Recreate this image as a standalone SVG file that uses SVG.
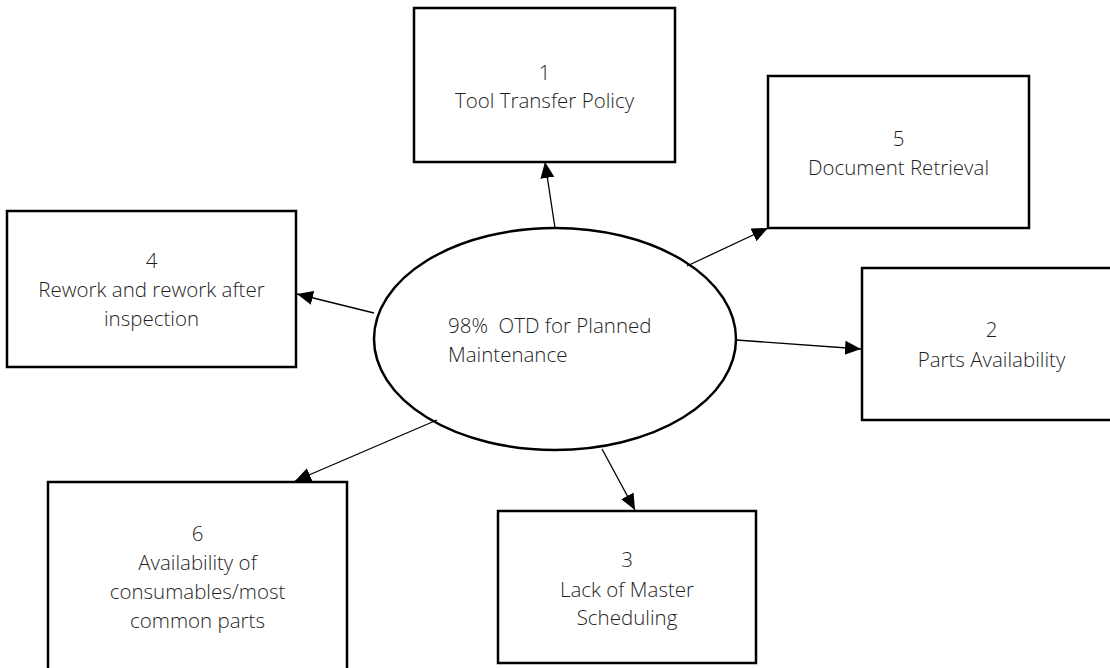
<svg xmlns="http://www.w3.org/2000/svg" width="1110" height="668" viewBox="0 0 1110 668">
<style>
.box{fill:#fff;stroke:#000;stroke-width:2.5}
.t{font-family:"Open Sans",Lato,"Liberation Sans",sans-serif;font-size:20.5px;font-weight:300;fill:#1f1f1f;text-anchor:middle}
.tl{font-family:"Open Sans",Lato,"Liberation Sans",sans-serif;font-size:20.5px;font-weight:300;fill:#1f1f1f}
.c{stroke:#000;stroke-width:1.3;fill:none;marker-end:url(#ah)}
</style>
<defs>
<marker id="ah" markerUnits="userSpaceOnUse" markerWidth="16" markerHeight="16" viewBox="0 0 16 16" refX="16" refY="8" orient="auto">
<path d="M0,1 L16,8 L0,15 Z" fill="#000"/>
</marker>
</defs>
<rect width="1110" height="668" fill="#fff"/>
<g id="node-center">
<ellipse cx="555" cy="339" rx="181" ry="111" fill="#fff" stroke="#000" stroke-width="2.5"/>
<text class="tl" x="448" y="333" xml:space="preserve">98%  OTD for Planned</text>
<text class="tl" x="448" y="362">Maintenance</text>
</g>
<g id="node-1">
<rect class="box" x="414" y="8" width="261" height="154"/>
<text class="t" x="544.5" y="80">1</text>
<text class="t" x="544.5" y="108">Tool Transfer Policy</text>
</g>
<g id="node-5">
<rect class="box" x="768" y="76" width="261" height="152"/>
<text class="t" x="898.5" y="146">5</text>
<text class="t" x="898.5" y="175">Document Retrieval</text>
</g>
<g id="node-4">
<rect class="box" x="7" y="211" width="289" height="156"/>
<text class="t" x="151.5" y="268">4</text>
<text class="t" x="151.5" y="297">Rework and rework after</text>
<text class="t" x="151.5" y="326">inspection</text>
</g>
<g id="node-2">
<rect class="box" x="862" y="268" width="259" height="152"/>
<text class="t" x="991.5" y="337">2</text>
<text class="t" x="991.5" y="367">Parts Availability</text>
</g>
<g id="node-6">
<rect class="box" x="48" y="482" width="299" height="200"/>
<text class="t" x="197.5" y="541">6</text>
<text class="t" x="197.5" y="570">Availability of</text>
<text class="t" x="197.5" y="599">consumables/most</text>
<text class="t" x="197.5" y="628">common parts</text>
</g>
<g id="node-3">
<rect class="box" x="498" y="511" width="258" height="152"/>
<text class="t" x="627" y="567">3</text>
<text class="t" x="627" y="597">Lack of Master</text>
<text class="t" x="627" y="625">Scheduling</text>
</g>
<g id="connectors">
<line class="c" x1="555" y1="228" x2="545" y2="162"/>
<line class="c" x1="687" y1="266" x2="768" y2="228"/>
<line class="c" x1="374" y1="313" x2="297" y2="294"/>
<line class="c" x1="736" y1="340" x2="861" y2="349"/>
<line class="c" x1="602" y1="449" x2="635" y2="510"/>
<line class="c" x1="437" y1="420" x2="295" y2="481"/>
</g>
</svg>
